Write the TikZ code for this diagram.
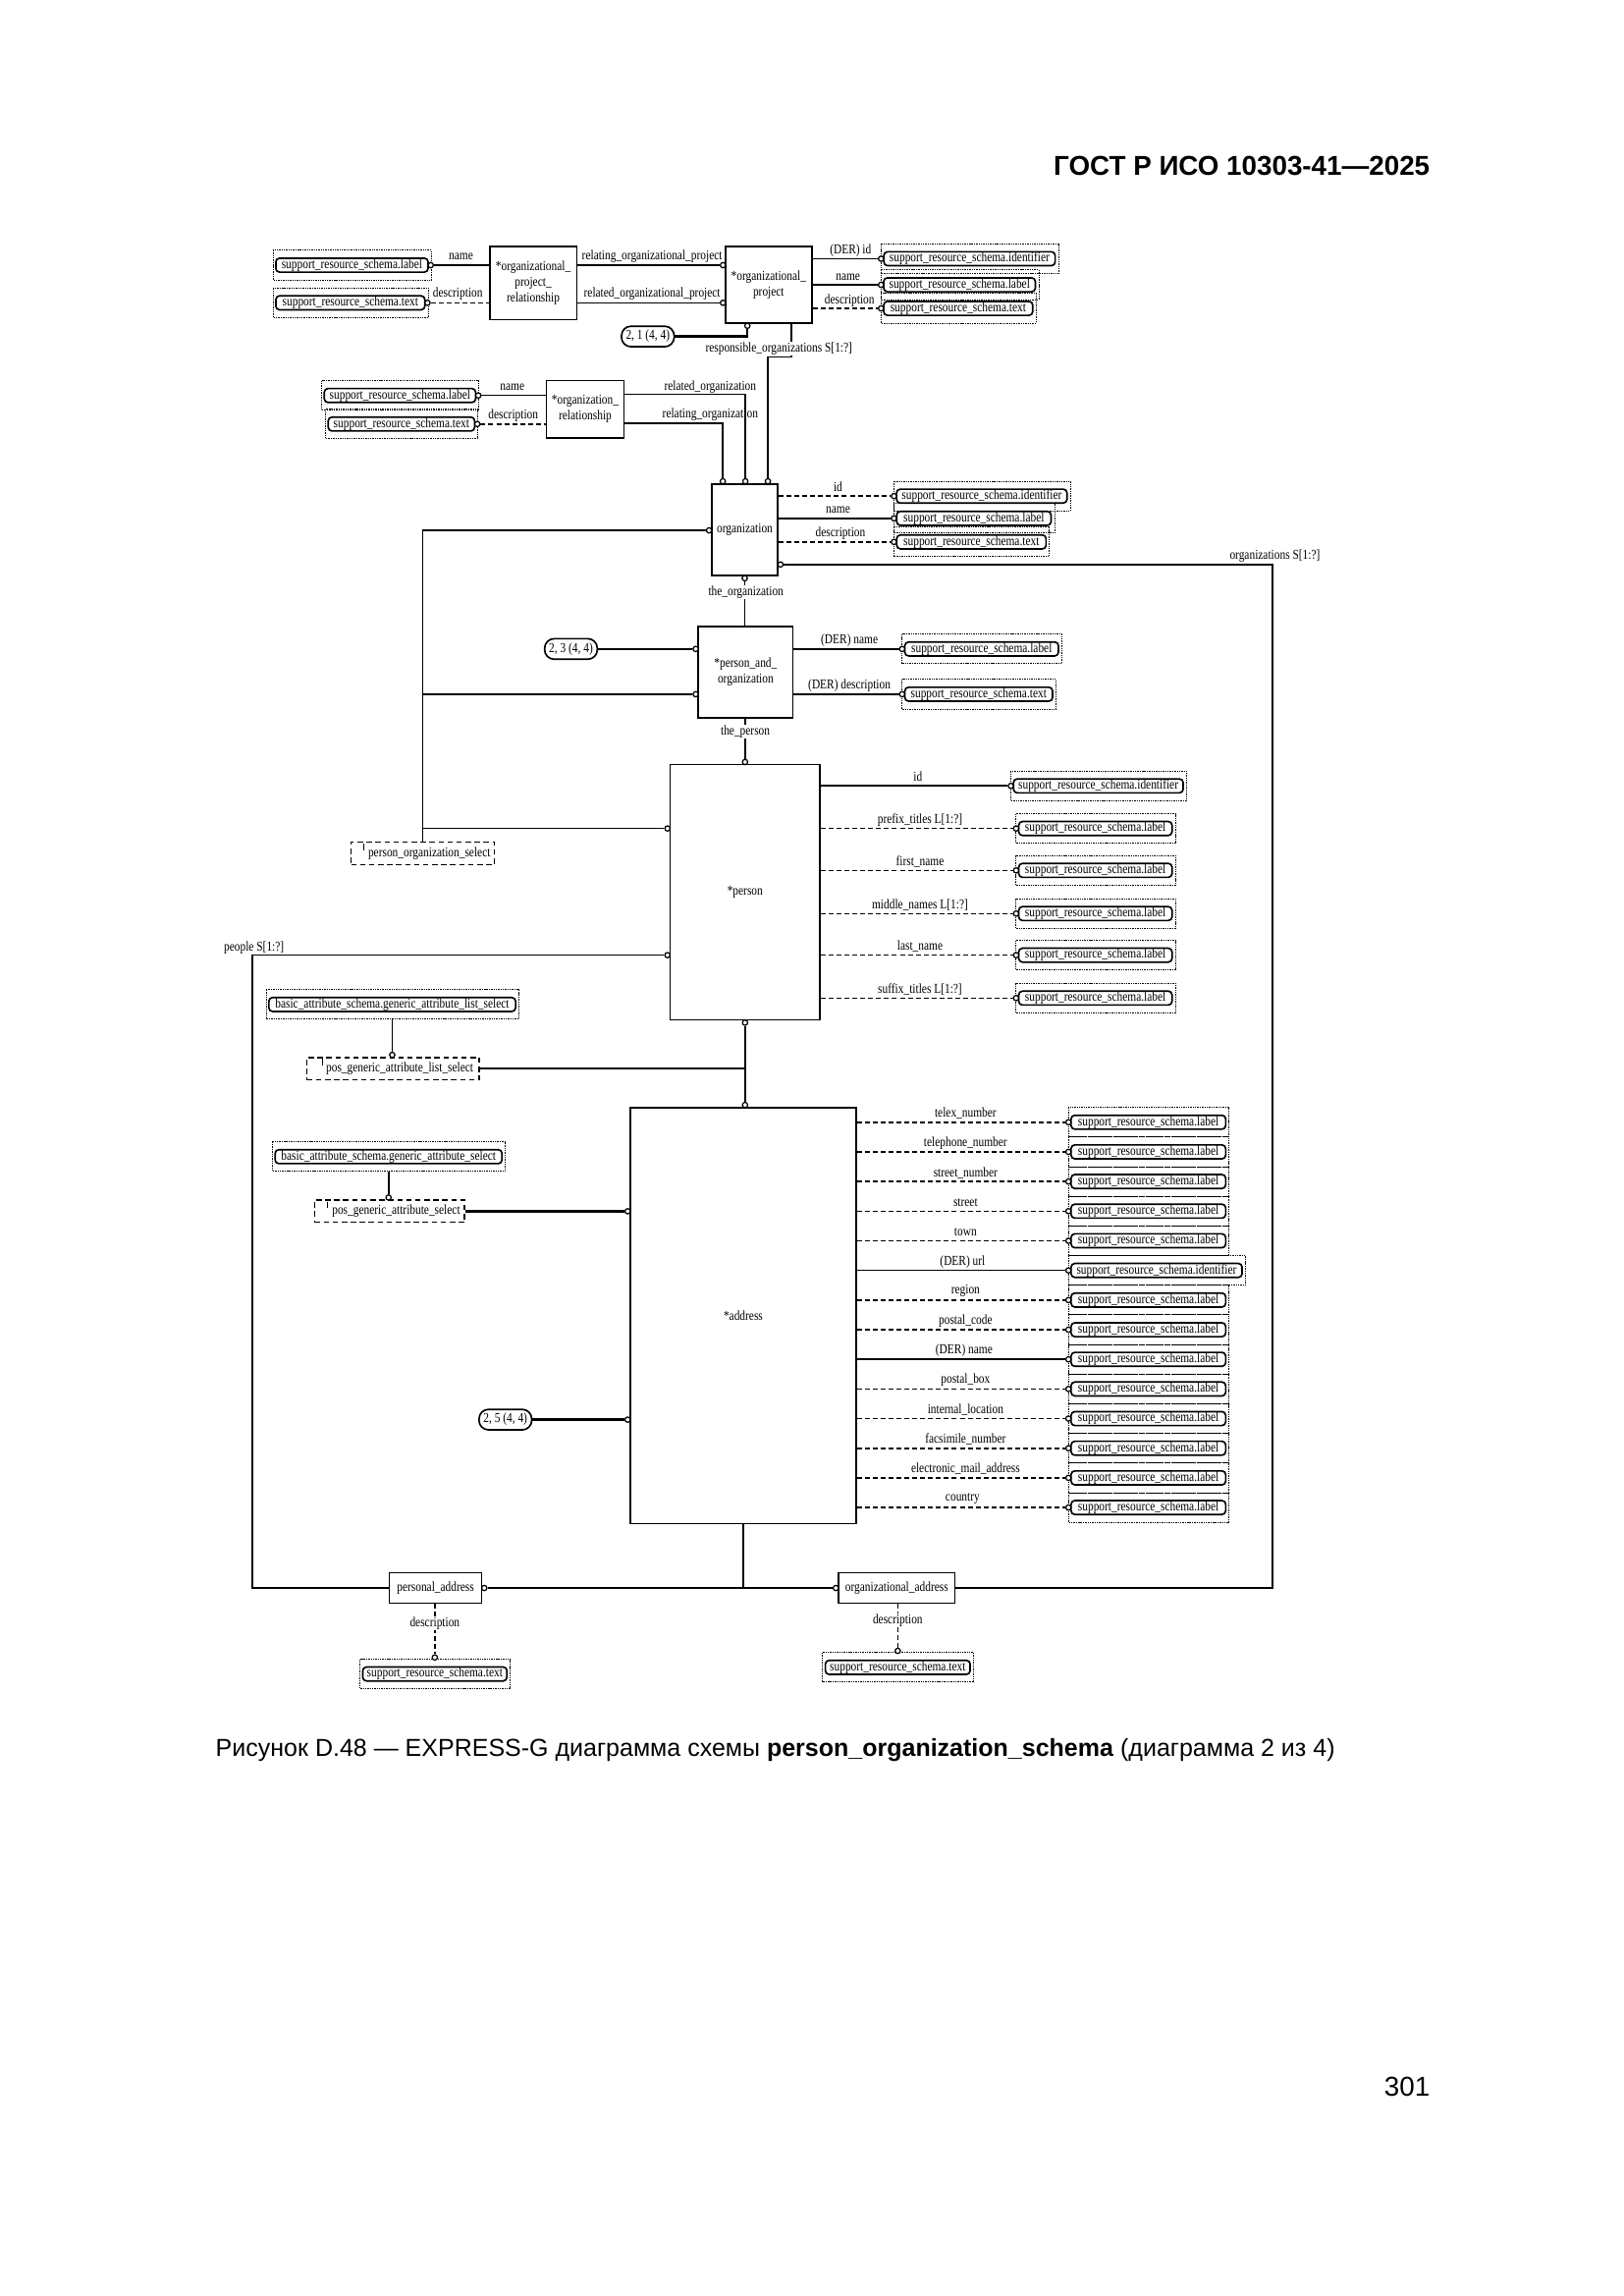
\documentclass[tikz,border=0pt]{standalone}
\usepackage{fontspec}
\setmainfont{Liberation Serif}
\newfontfamily\dfont[FakeStretch=0.82]{Liberation Serif}
\newfontfamily\hfont{Liberation Sans}
\newdimen\uu \uu=0.5366pt
\tikzset{
 dtext/.style={font=\dfont\fontsize{5}{5.7}\selectfont},
 ent/.style={draw, line width=0.55pt, rectangle, inner sep=0, align=center, dtext},
 tref/.style={draw, line width=0.6pt, rounded corners=2.5\uu, minimum height=9.5\uu, inner sep=0, dtext},
 touter/.style={line width=0.35pt, dash pattern=on 0.5pt off 0.35pt},
 sel/.style={draw, line width=0.5pt, dash pattern=on 2pt off 1.3pt, inner sep=0, minimum height=15.2\uu, dtext},
 oval/.style={draw, line width=0.6pt, rounded corners=6.5\uu, minimum height=14\uu, minimum width=36\uu, inner sep=0, dtext},
 circ/.style={draw, circle, fill=white, inner sep=0, minimum size=3.6\uu, line width=0.45pt},
 lbl/.style={dtext, inner sep=0.3pt},
 wl/.style={lbl, fill=white},
 rel/.style={line width=0.55pt},
 thk/.style={line width=0.9pt},
 opt/.style={line width=0.55pt, dash pattern=on 1.8pt off 1.1pt},
}
\newcommand\mytbox[5]{%
  \node[tref, minimum width=#4\uu] (#1) at (#2,#3) {#5};
  \draw[touter] ([xshift=-1.3\uu,yshift=4.8\uu]#1.north west) rectangle ([xshift=1.8\uu,yshift=-4.8\uu]#1.south east);%
}
\newcommand\myselbox[6]{%
  \node[sel, minimum width=#4\uu] (#1) at (#2,#3) {\hspace*{9\uu}#5};
  \draw[line width=0.45pt] ([xshift=#6\uu,yshift=-1.5\uu]#1.north west) -- ([xshift=#6\uu,yshift=-6\uu]#1.north west);%
}
\begin{document}
\begin{tikzpicture}[x=0.5366pt,y=-0.5366pt]
\fill[white] (0,0) rectangle (1109,1568);
\useasboundingbox (0,0) rectangle (1109,1568);

% page texts
\node[anchor=east, inner sep=0, font=\hfont\bfseries\fontsize{10}{12}\selectfont] (hdr) at (977,113) {ГОСТ Р ИСО 10303-41—2025};
\node[anchor=west, inner sep=0, font=\hfont\fontsize{9}{11}\selectfont] (cap) at (147,1195) {Рисунок D.48 — EXPRESS-G диаграмма схемы \textbf{person\_organization\_schema} (диаграмма 2 из 4)};
\node[anchor=east, inner sep=0, font=\hfont\fontsize{10}{12}\selectfont] (pg) at (977,1425) {301};

% entities
\node[ent, minimum width=59.3\uu, minimum height=49.8\uu] (opr) at (364.2,193.3) {*organizational\_\\project\_\\relationship};
\node[ent, minimum width=58.9\uu, minimum height=52.3\uu] (op) at (525,194.5) {*organizational\_\\project};
\node[ent, minimum width=53\uu, minimum height=39.4\uu] (or) at (399.7,279.5) {*organization\_\\relationship};
\node[ent, minimum width=45.2\uu, minimum height=62.6\uu] (org) at (508.7,361.8) {organization};
\node[ent, minimum width=64.6\uu, minimum height=62.6\uu] (pao) at (509.3,459.1) {*person\_and\_\\organization};
\node[ent, minimum width=102.4\uu, minimum height=174.4\uu] (per) at (508.9,609.4) {*person};
\node[ent, minimum width=154.3\uu, minimum height=284.1\uu] (adr) at (507.65,898.45) {*address};
\node[ent, minimum width=63\uu, minimum height=20.8\uu] (pa) at (297.5,1084.5) {personal\_address};
\node[ent, minimum width=79.7\uu, minimum height=20.6\uu] (oa) at (612.5,1084.5) {organizational\_address};

% type references
\mytbox{a1}{240.4}{181.1}{104}{support\_resource\_schema.label}
\mytbox{a2}{239.3}{206.8}{101.8}{support\_resource\_schema.text}
\mytbox{b1}{662.2}{176.7}{117}{support\_resource\_schema.identifier}
\mytbox{b2}{655.4}{194.5}{103.6}{support\_resource\_schema.label}
\mytbox{b3}{654.5}{210.6}{101.8}{support\_resource\_schema.text}
\mytbox{c1}{273.2}{270.1}{103.4}{support\_resource\_schema.label}
\mytbox{c2}{274.2}{289.6}{100}{support\_resource\_schema.text}
\mytbox{d1}{670.6}{338.8}{116.4}{support\_resource\_schema.identifier}
\mytbox{d2}{665.2}{354}{105.5}{support\_resource\_schema.label}
\mytbox{d3}{663.5}{370.1}{102}{support\_resource\_schema.text}
\mytbox{e1}{670.5}{443.2}{104.9}{support\_resource\_schema.label}
\mytbox{e2}{668.5}{474.1}{100.9}{support\_resource\_schema.text}
\mytbox{p0}{750.2}{536.7}{115.9}{support\_resource\_schema.identifier}
\mytbox{p1}{748.2}{565.8}{104.7}{support\_resource\_schema.label}
\mytbox{p2}{748.2}{594.4}{104.7}{support\_resource\_schema.label}
\mytbox{p3}{748.2}{623.9}{104.7}{support\_resource\_schema.label}
\mytbox{p4}{748.2}{652.3}{104.7}{support\_resource\_schema.label}
\mytbox{p5}{748.2}{681.6}{104.7}{support\_resource\_schema.label}
\mytbox{bls}{267.9}{686}{168.5}{basic\_attribute\_schema.generic\_attribute\_list\_select}
\mytbox{bs}{265.4}{789.9}{155}{basic\_attribute\_schema.generic\_attribute\_select}
\mytbox{q0}{784.4}{766.4}{105.6}{support\_resource\_schema.label}
\mytbox{q1}{784.4}{786.64}{105.6}{support\_resource\_schema.label}
\mytbox{q2}{784.4}{806.88}{105.6}{support\_resource\_schema.label}
\mytbox{q3}{784.4}{827.12}{105.6}{support\_resource\_schema.label}
\mytbox{q4}{784.4}{847.36}{105.6}{support\_resource\_schema.label}
\mytbox{q5}{790}{867.6}{116.8}{support\_resource\_schema.identifier}
\mytbox{q6}{784.4}{887.84}{105.6}{support\_resource\_schema.label}
\mytbox{q7}{784.4}{908.08}{105.6}{support\_resource\_schema.label}
\mytbox{q8}{784.4}{928.32}{105.6}{support\_resource\_schema.label}
\mytbox{q9}{784.4}{948.56}{105.6}{support\_resource\_schema.label}
\mytbox{q10}{784.4}{968.8}{105.6}{support\_resource\_schema.label}
\mytbox{q11}{784.4}{989.04}{105.6}{support\_resource\_schema.label}
\mytbox{q12}{784.4}{1009.28}{105.6}{support\_resource\_schema.label}
\mytbox{q13}{784.4}{1029.52}{105.6}{support\_resource\_schema.label}
\mytbox{pad}{297}{1143.2}{98.5}{support\_resource\_schema.text}
\mytbox{oad}{613.2}{1138.7}{98.9}{support\_resource\_schema.text}

% select types
\myselbox{pos}{288.75}{582.8}{97.9}{person\_organization\_select}{9}
\myselbox{pgals}{268.55}{729.8}{117.7}{pos\_generic\_attribute\_list\_select}{11}
\myselbox{pgas}{266.1}{827.2}{102.4}{pos\_generic\_attribute\_select}{9}

% page references
\node[oval] (ov1) at (442.5,229.8) {2, 1 (4, 4)};
\node[oval] (ov2) at (390,443.2) {2, 3 (4, 4)};
\node[oval] (ov3) at (345.2,969.5) {2, 5 (4, 4)};

% circles
\node[circ] (ca1) at (294.2,181.1) {};
\node[circ] (ca2) at (292.0,206.8) {};
\node[circ] (cop1) at (493.8,181.1) {};
\node[circ] (cop2) at (493.8,206.8) {};
\node[circ] (cop3) at (510.5,222.5) {};
\node[circ] (cb1) at (601.8,176.7) {};
\node[circ] (cb2) at (601.8,194.5) {};
\node[circ] (cb3) at (601.8,210.6) {};
\node[circ] (cc1) at (326.7,270.1) {};
\node[circ] (cc2) at (326.0,289.6) {};
\node[circ] (corg1) at (524.5,328.7) {};
\node[circ] (corg2) at (509.1,328.7) {};
\node[circ] (corg3) at (493.7,328.7) {};
\node[circ] (cd1) at (610.6,338.8) {};
\node[circ] (cd2) at (610.6,354) {};
\node[circ] (cd3) at (610.6,370.1) {};
\node[circ] (corg4) at (533.1,385.5) {};
\node[circ] (corg5) at (508.7,394.9) {};
\node[circ] (corg6) at (484.3,362.2) {};
\node[circ] (cpao1) at (475.2,443.2) {};
\node[circ] (cpao2) at (475.2,474.1) {};
\node[circ] (ce1) at (616.2,443.2) {};
\node[circ] (ce2) at (616.2,474.1) {};
\node[circ] (cper1) at (455.9,565.8) {};
\node[circ] (cper2) at (508.9,520.4) {};
\node[circ] (cper3) at (455.9,652.3) {};
\node[circ] (cper4) at (508.9,698.4) {};
\node[circ] (cp0) at (690.45,536.7) {};
\node[circ] (cp1) at (694.05,565.8) {};
\node[circ] (cp2) at (694.05,594.4) {};
\node[circ] (cp3) at (694.05,623.9) {};
\node[circ] (cp4) at (694.05,652.3) {};
\node[circ] (cp5) at (694.05,681.6) {};
\node[circ] (cpg1) at (267.9,720.4) {};
\node[circ] (cpg2) at (265.4,817.8) {};
\node[circ] (cadr1) at (508.9,754.6) {};
\node[circ] (cadr2) at (428.7,827.2) {};
\node[circ] (cadr3) at (428.7,969.5) {};
\node[circ] (cq0) at (729.8,766.4) {};
\node[circ] (cq1) at (729.8,786.64) {};
\node[circ] (cq2) at (729.8,806.88) {};
\node[circ] (cq3) at (729.8,827.12) {};
\node[circ] (cq4) at (729.8,847.36) {};
\node[circ] (cq5) at (729.8,867.6) {};
\node[circ] (cq6) at (729.8,887.84) {};
\node[circ] (cq7) at (729.8,908.08) {};
\node[circ] (cq8) at (729.8,928.32) {};
\node[circ] (cq9) at (729.8,948.56) {};
\node[circ] (cq10) at (729.8,968.8) {};
\node[circ] (cq11) at (729.8,989.04) {};
\node[circ] (cq12) at (729.8,1009.28) {};
\node[circ] (cq13) at (729.8,1029.52) {};
\node[circ] (cpa) at (330.8,1084.5) {};
\node[circ] (coa) at (570.9,1084.5) {};
\node[circ] (cpad) at (297,1131.9) {};
\node[circ] (coad) at (613.2,1127.4) {};

% bend coordinates
\coordinate (rj1) at (540.6,243.7);
\coordinate (j1) at (509.1,269.4);
\coordinate (j2) at (493.7,289.1);
\coordinate (rk1) at (869.2,385.5);
\coordinate (rk2) at (869.2,1084.5);
\coordinate (lv1) at (288.75,362.2);
\coordinate (lk1) at (172.4,652.3);
\coordinate (lk2) at (172.4,1084.5);
\coordinate (ab) at (507.65,1084.5);

% organizational_project_relationship
\draw[rel] (ca1) -- (ca1 -| opr.west);
\draw[opt] (ca2) -- (ca2 -| opr.west);
\draw[rel] (opr.east |- cop1) -- (cop1);
\draw[rel] (opr.east |- cop2) -- (cop2);
% organizational_project
\draw[rel] (op.east |- cb1) -- (cb1);
\draw[rel] (op.east |- cb2) -- (cb2);
\draw[opt] (op.east |- cb3) -- (cb3);
\draw[thk] (ov1.east) -- (ov1.east -| cop3) -- (cop3);
\draw[rel] (op.south -| rj1) -- (rj1) -- (rj1 -| corg1) -- (corg1);
% organization_relationship
\draw[rel] (cc1) -- (cc1 -| or.west);
\draw[opt] (cc2) -- (cc2 -| or.west);
\draw[rel] (or.east |- j1) -- (j1) -- (corg2);
\draw[rel] (or.east |- j2) -- (j2) -- (corg3);
% organization
\draw[opt] (org.east |- cd1) -- (cd1);
\draw[rel] (org.east |- cd2) -- (cd2);
\draw[opt] (org.east |- cd3) -- (cd3);
\draw[rel] (corg4) -- (rk1) -- (rk2) -- (oa.east);
\draw[rel] (corg5) -- (corg5 |- pao.north);
% select tree
\draw[rel] (pos.north) -- (lv1) -- (corg6);
\draw[rel] (lv1 |- cpao2) -- (cpao2);
\draw[rel] (lv1 |- cper1) -- (cper1);
% person_and_organization
\draw[thk] (ov2.east) -- (cpao1);
\draw[rel] (pao.east |- ce1) -- (ce1);
\draw[rel] (pao.east |- ce2) -- (ce2);
\draw[rel] (pao.south -| cper2) -- (cper2);
% person
\draw[rel] (per.east |- cp0) -- (cp0);
\draw[opt] (per.east |- cp1) -- (cp1);
\draw[opt] (per.east |- cp2) -- (cp2);
\draw[opt] (per.east |- cp3) -- (cp3);
\draw[opt] (per.east |- cp4) -- (cp4);
\draw[opt] (per.east |- cp5) -- (cp5);
\draw[rel] (cper3) -- (lk1) -- (lk2) -- (pa.west);
% generic attribute selects
\draw[rel] ([yshift=-4.8\uu]bls.south) -- (cpg1);
\draw[thk] (pgals.east) -- (pgals.east -| cper4);
\draw[rel] (cper4) -- (cadr1);
\draw[rel] ([yshift=-4.8\uu]bs.south) -- (cpg2);
\draw[thk] (pgas.east) -- (cadr2);
\draw[thk] (ov3.east) -- (cadr3);
% address
\draw[opt] (adr.east |- cq0) -- (cq0);
\draw[opt] (adr.east |- cq1) -- (cq1);
\draw[opt] (adr.east |- cq2) -- (cq2);
\draw[opt] (adr.east |- cq3) -- (cq3);
\draw[opt] (adr.east |- cq4) -- (cq4);
\draw[rel] (adr.east |- cq5) -- (cq5);
\draw[opt] (adr.east |- cq6) -- (cq6);
\draw[opt] (adr.east |- cq7) -- (cq7);
\draw[rel] (adr.east |- cq8) -- (cq8);
\draw[opt] (adr.east |- cq9) -- (cq9);
\draw[opt] (adr.east |- cq10) -- (cq10);
\draw[opt] (adr.east |- cq11) -- (cq11);
\draw[opt] (adr.east |- cq12) -- (cq12);
\draw[opt] (adr.east |- cq13) -- (cq13);
\draw[thk] (adr.south) -- (ab);
\draw[thk] (cpa) -- (coa);
\draw[opt] (pa.south -| cpad) -- (cpad);
\draw[opt] (oa.south -| coad) -- (coad);

% labels
\node[lbl] (l1) at (314.9,175.5) {name};
\node[lbl] (l2) at (312.7,200.6) {description};
\node[lbl] (l3) at (445.4,175.5) {relating\_organizational\_project};
\node[lbl] (l4) at (445.4,200.8) {related\_organizational\_project};
\node[lbl] (l5) at (581,171) {(DER) id};
\node[lbl] (l6) at (579.2,189) {name};
\node[lbl] (l7) at (580.3,205.3) {description};
\node[wl] (l8) at (532,238.2) {responsible\_organizations S[1:?]};
\node[lbl] (l9) at (349.9,264.3) {name};
\node[lbl] (l10) at (350.6,283.5) {description};
\node[lbl] (l11) at (485.1,264.3) {related\_organization};
\node[lbl] (l12) at (485.1,283.3) {relating\_organization};
\node[lbl] (l13) at (572.4,332.5) {id};
\node[lbl] (l14) at (572.4,348.2) {name};
\node[lbl] (l15) at (574.1,364.5) {description};
\node[lbl] (l16) at (870.8,379.7) {organizations S[1:?]};
\node[wl] (l17) at (509.5,404.6) {the\_organization};
\node[lbl] (l18) at (580.2,437.6) {(DER) name};
\node[lbl] (l19) at (580.2,468.5) {(DER) description};
\node[wl] (l20) at (509.1,499.8) {the\_person};
\node[lbl] (l21) at (627,530.5) {id};
\node[lbl] (l22) at (628.4,560.2) {prefix\_titles L[1:?]};
\node[lbl] (l23) at (628.4,588.6) {first\_name};
\node[lbl] (l24) at (628.4,617.9) {middle\_names L[1:?]};
\node[lbl] (l25) at (628.4,646.3) {last\_name};
\node[lbl] (l26) at (628.4,675.4) {suffix\_titles L[1:?]};
\node[lbl] (l27) at (173.5,647.2) {people S[1:?]};
\node[lbl] (m0) at (659.5,760.4) {telex\_number};
\node[lbl] (m1) at (659.5,780.6) {telephone\_number};
\node[lbl] (m2) at (659.5,800.9) {street\_number};
\node[lbl] (m3) at (659.5,821.1) {street};
\node[lbl] (m4) at (659.5,841.4) {town};
\node[lbl] (m5) at (657.5,861.6) {(DER) url};
\node[lbl] (m6) at (659.5,881.8) {region};
\node[lbl] (m7) at (659.5,902.1) {postal\_code};
\node[lbl] (m8) at (658.5,922.3) {(DER) name};
\node[lbl] (m9) at (659.5,942.6) {postal\_box};
\node[lbl] (m10) at (659.5,962.8) {internal\_location};
\node[lbl] (m11) at (659.5,983.0) {facsimile\_number};
\node[lbl] (m12) at (659.5,1003.3) {electronic\_mail\_address};
\node[lbl] (m13) at (657.5,1023.5) {country};
\node[wl] (l28) at (297,1108.8) {description};
\node[wl] (l29) at (613.2,1106.5) {description};
\end{tikzpicture}
\end{document}
